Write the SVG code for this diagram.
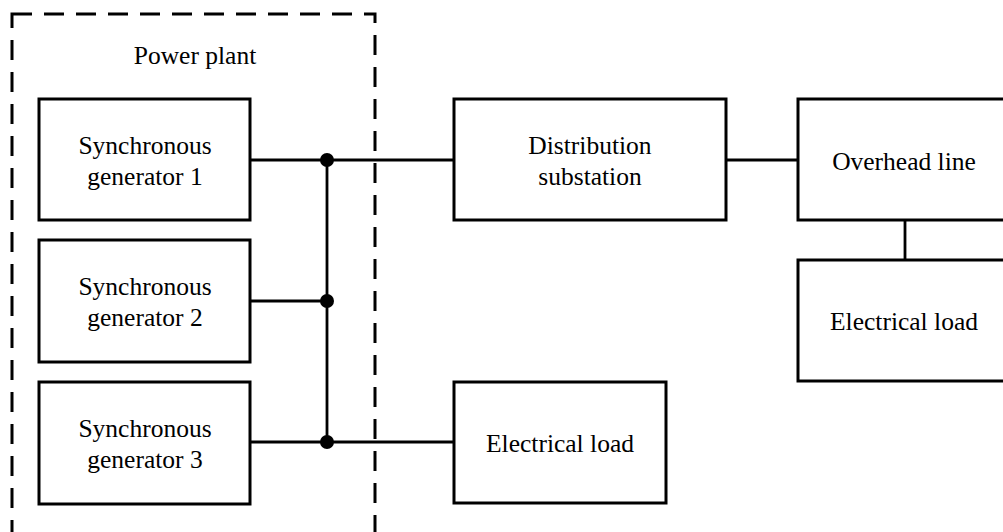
<svg xmlns="http://www.w3.org/2000/svg" width="1003" height="532" viewBox="0 0 1003 532">
<style>
.box{fill:#fff;stroke:#000;stroke-width:3}
.t{font-family:"Liberation Serif","Times New Roman",serif;font-size:25.5px;fill:#000;text-anchor:middle}
.w{stroke:#000;stroke-width:2.8;fill:none}
</style>
<rect width="1003" height="532" fill="#fff"/>
<g id="power-plant">
<rect x="12" y="14" width="363" height="540" fill="none" stroke="#000" stroke-width="3" stroke-dasharray="20 12"/>
<text class="t" x="195" y="64">Power plant</text>
</g>
<g id="connectors">
<line class="w" x1="250" y1="160" x2="454" y2="160"/>
<line class="w" x1="250" y1="301" x2="327" y2="301"/>
<line class="w" x1="250" y1="442" x2="454" y2="442"/>
<line class="w" x1="327" y1="160" x2="327" y2="442"/>
<line class="w" x1="726" y1="160" x2="798" y2="160"/>
<line class="w" x1="905" y1="220" x2="905" y2="260"/>
<circle cx="327" cy="160" r="7"/>
<circle cx="327" cy="301" r="7"/>
<circle cx="327" cy="442" r="7"/>
</g>
<g id="gen1">
<rect class="box" x="39" y="99" width="211" height="121"/>
<text class="t" x="145" y="154">Synchronous</text>
<text class="t" x="145" y="185">generator 1</text>
</g>
<g id="gen2">
<rect class="box" x="39" y="240" width="211" height="122"/>
<text class="t" x="145" y="295">Synchronous</text>
<text class="t" x="145" y="326">generator 2</text>
</g>
<g id="gen3">
<rect class="box" x="39" y="382" width="211" height="122"/>
<text class="t" x="145" y="437">Synchronous</text>
<text class="t" x="145" y="468">generator 3</text>
</g>
<g id="distribution">
<rect class="box" x="454" y="99" width="272" height="121"/>
<text class="t" x="590" y="154">Distribution</text>
<text class="t" x="590" y="185">substation</text>
</g>
<g id="overhead">
<rect class="box" x="798" y="99" width="220" height="121"/>
<text class="t" x="904" y="170">Overhead line</text>
</g>
<g id="load-right">
<rect class="box" x="798" y="260" width="220" height="121"/>
<text class="t" x="904" y="330">Electrical load</text>
</g>
<g id="load-bottom">
<rect class="box" x="454" y="382" width="212" height="121"/>
<text class="t" x="560" y="452">Electrical load</text>
</g>
</svg>
